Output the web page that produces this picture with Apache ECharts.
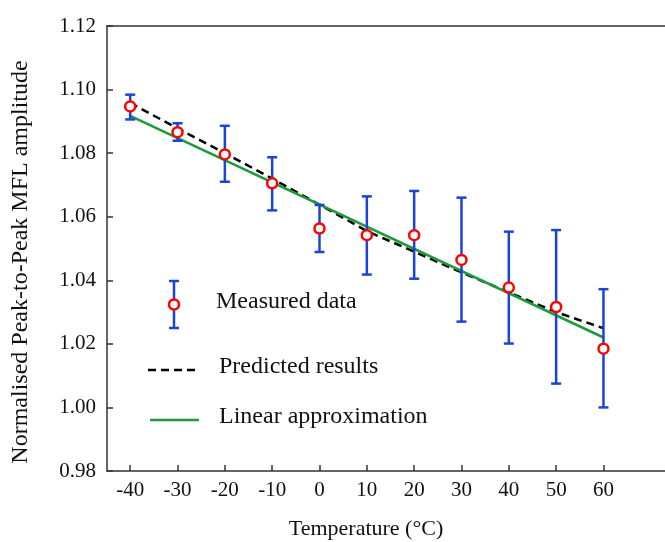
<!DOCTYPE html>
<html>
<head>
<meta charset="utf-8">
<script src="https://cdn.jsdelivr.net/npm/echarts@6/dist/echarts.min.js"></script>
<style>html,body{margin:0;padding:0;background:#fff}#c{width:665px;height:542px}</style>
</head>
<body>
<div id="c"></div>
<script>
var temps = [-40, -30, -20, -10, 0, 10, 20, 30, 40, 50, 60];
var measured = [1.0947, 1.0866, 1.0796, 1.0705, 1.0563, 1.0542, 1.0542, 1.0464, 1.0377, 1.0316, 1.0185];
var errUpper = [1.0984, 1.0894, 1.0886, 1.0787, 1.0637, 1.0664, 1.0681, 1.0660, 1.0553, 1.0558, 1.0372];
var errLower = [1.0906, 1.0839, 1.0710, 1.0620, 1.0489, 1.0418, 1.0405, 1.0270, 1.0201, 1.0075, 1.0000];
var predicted = [1.0958, 1.0878, 1.0800, 1.0720, 1.0638, 1.0555, 1.0490, 1.0425, 1.0362, 1.0300, 1.0249];
var linearX = [-40, 60];
var linearY = [1.0917, 1.0220];
var yTicks = [0.98, 1.00, 1.02, 1.04, 1.06, 1.08, 1.10, 1.12];

var FONT = "'Liberation Serif','Times New Roman',serif";
var BLUE = '#1a44d8', RED = '#ff0000', GREEN = '#1e9a3c', AXIS = '#333';

function zip(a, b) { return a.map(function (v, i) { return [v, b[i]]; }); }

var chart = echarts.init(document.getElementById('c'));
chart.setOption({
  animation: false,
  backgroundColor: '#fff',
  grid: { left: 107, top: 26, right: 0, bottom: 71, show: false },
  xAxis: [{
    type: 'value', min: -44.9, max: 73,
    axisLine: { onZero: false, lineStyle: { color: AXIS, width: 1.5 } },
    axisTick: { inside: true, length: 6, customValues: temps, lineStyle: { color: AXIS, width: 1.5 } },
    axisLabel: { customValues: temps, color: '#111', fontFamily: FONT, fontSize: 21, margin: 9 },
    splitLine: { show: false }
  }, {
    type: 'value', position: 'top', min: -44.9, max: 73,
    axisLine: { show: true, onZero: false, lineStyle: { color: AXIS, width: 1.5 } },
    axisTick: { show: false }, axisLabel: { show: false }, splitLine: { show: false }
  }],
  yAxis: {
    type: 'value', min: 0.98, max: 1.12,
    axisLine: { show: true, onZero: false, lineStyle: { color: AXIS, width: 1.5 } },
    axisTick: { show: true, inside: true, length: 6, customValues: yTicks, lineStyle: { color: AXIS, width: 1.5 } },
    axisLabel: { customValues: yTicks, color: '#111', fontFamily: FONT, fontSize: 21, margin: 11,
      formatter: function (v) { return v.toFixed(2); } },
    splitLine: { show: false }
  },
  series: [
    { type: 'line', data: zip(temps, predicted), symbol: 'none', z: 2,
      lineStyle: { color: '#000', width: 2.5, type: [8, 5] } },
    { type: 'line', data: zip(linearX, linearY), symbol: 'none', z: 3,
      lineStyle: { color: GREEN, width: 2.5 } },
    { type: 'custom', z: 4,
      data: temps.map(function (t, i) { return [t, errLower[i], errUpper[i]]; }),
      renderItem: function (params, api) {
        var lo = api.coord([api.value(0), api.value(1)]);
        var hi = api.coord([api.value(0), api.value(2)]);
        var w = 5;
        var st = { stroke: BLUE, lineWidth: 2.5 };
        return { type: 'group', children: [
          { type: 'line', shape: { x1: lo[0], y1: lo[1], x2: hi[0], y2: hi[1] }, style: st },
          { type: 'line', shape: { x1: lo[0] - w, y1: lo[1], x2: lo[0] + w, y2: lo[1] }, style: st },
          { type: 'line', shape: { x1: hi[0] - w, y1: hi[1], x2: hi[0] + w, y2: hi[1] }, style: st }
        ] };
      } },
    { type: 'scatter', data: zip(temps, measured), symbol: 'circle', symbolSize: 10, z: 5,
      itemStyle: { color: '#fff', borderColor: RED, borderWidth: 2.5, opacity: 1 } }
  ],
  graphic: [
    { type: 'text', x: 366, y: 529, style: { text: 'Temperature (°C)', font: '22px ' + FONT, fill: '#111', align: 'center', verticalAlign: 'middle' } },
    { type: 'text', x: 21, y: 262, rotation: Math.PI / 2, style: { text: 'Normalised Peak-to-Peak MFL amplitude', font: '24px ' + FONT, fill: '#111', align: 'center', verticalAlign: 'middle' } },
    // legend: measured data
    { type: 'line', shape: { x1: 174, y1: 281, x2: 174, y2: 328 }, style: { stroke: BLUE, lineWidth: 2.5 } },
    { type: 'line', shape: { x1: 169, y1: 281, x2: 179, y2: 281 }, style: { stroke: BLUE, lineWidth: 2.5 } },
    { type: 'line', shape: { x1: 169, y1: 328, x2: 179, y2: 328 }, style: { stroke: BLUE, lineWidth: 2.5 } },
    { type: 'circle', shape: { cx: 174, cy: 304.5, r: 5 }, style: { fill: '#fff', stroke: RED, lineWidth: 2.5 } },
    { type: 'text', x: 216, y: 302, style: { text: 'Measured data', font: '24px ' + FONT, fill: '#111', verticalAlign: 'middle' } },
    // legend: predicted
    { type: 'line', shape: { x1: 148, y1: 370, x2: 199, y2: 370 }, style: { stroke: '#000', lineWidth: 2.5, lineDash: [8, 5] } },
    { type: 'text', x: 219, y: 367, style: { text: 'Predicted results', font: '24px ' + FONT, fill: '#111', verticalAlign: 'middle' } },
    // legend: linear
    { type: 'line', shape: { x1: 150, y1: 420, x2: 199, y2: 420 }, style: { stroke: GREEN, lineWidth: 2.5 } },
    { type: 'text', x: 219, y: 417, style: { text: 'Linear approximation', font: '24px ' + FONT, fill: '#111', verticalAlign: 'middle' } }
  ]
});
</script>
</body>
</html>
